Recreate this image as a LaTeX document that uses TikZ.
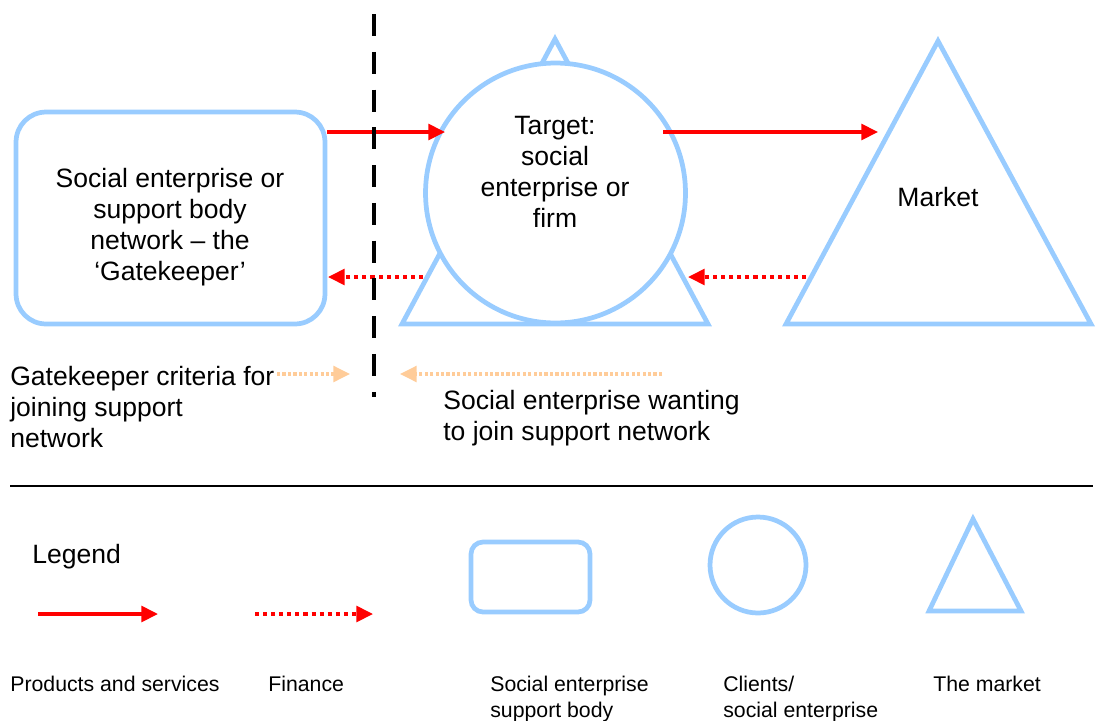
\documentclass[tikz,border=0pt]{standalone}
\usepackage{fontspec}
\setmainfont{Liberation Sans}
\usetikzlibrary{arrows.meta}
\definecolor{shapeblue}{RGB}{153,204,255}
\definecolor{arrowred}{RGB}{255,0,0}
\definecolor{joinpeach}{RGB}{255,204,153}
\tikzset{
	% light blue outlines for the actors
	shape line/.style={draw=shapeblue,line width=2.7pt,line join=miter},
	% flows: products and services solid, finance dotted, joining peach
	goods arrow/.style={draw=arrowred,line width=2pt,-{Triangle[length=9.5pt,width=9pt]}},
	money arrow/.style={goods arrow,dash pattern=on 2.3pt off 2.3pt},
	join arrow/.style={draw=joinpeach,line width=1.8pt,dash pattern=on 1.8pt off 1.3pt,-{Triangle[length=9.5pt,width=9pt]}},
	cut line/.style={draw=black,line width=2.8pt,dash pattern=on 12.5pt off 9pt},
	big text/.style={font=\fontsize{15.1pt}{17.6pt}\selectfont},
	small text/.style={font=\fontsize{12.1pt}{14.8pt}\selectfont}
}
\begin{document}
\begin{tikzpicture}[x=0.02cm,y=-0.02cm]
	\useasboundingbox (0,0) rectangle (1097,720);
	% end points of the connectors
	\coordinate (goods1 start) at (327,132);
	\coordinate (goods1 end) at (445,132);
	\coordinate (goods2 start) at (663,132);
	\coordinate (goods2 end) at (878,132);
	\coordinate (money1 start) at (423,277);
	\coordinate (money1 end) at (328,277);
	\coordinate (money2 start) at (806,277);
	\coordinate (money2 end) at (688,277);
	\coordinate (join1 start) at (277,374);
	\coordinate (join1 end) at (350,374);
	\coordinate (join2 start) at (662,374);
	\coordinate (join2 end) at (400,374);
	\coordinate (cut top) at (374,14);
	\coordinate (cut bottom) at (374,397);
	\coordinate (rule left) at (10,486);
	\coordinate (rule right) at (1093,486);
	
	% gatekeeper network
	\node(gk)[shape line,rounded corners=0.6cm,minimum width=6.18cm,minimum height=4.24cm] at (170.5,218){};
	\node(gk text)[big text,align=center] at (170,227){Social enterprise or\\support body\\network -- the\\‘Gatekeeper’};
	
	% target: triangle behind a white circle
	\draw[shape line] (555,39) -- (402,324) -- (708,324) -- cycle;
	\node(target)[shape line,circle,fill=white,minimum size=5.2cm,inner sep=0] at (555.5,193){};
	\node(target text)[big text,align=center] at (555,172){Target:\\social\\enterprise or\\firm};
	
	% market
	\draw[shape line] (938,41) -- (786,324) -- (1091,324) -- cycle;
	\node(market)[big text] at (938,197){Market};
	
	% flows
	\draw[goods arrow] (goods1 start) -- (goods1 end);
	\draw[goods arrow] (goods2 start) -- (goods2 end);
	\draw[money arrow] (money1 start) -- (money1 end);
	\draw[money arrow] (money2 start) -- (money2 end);
	\draw[cut line] (cut top) -- (cut bottom);
	\draw[join arrow] (join1 start) -- (join1 end);
	\draw[join arrow] (join2 start) -- (join2 end);
	
	\node(criteria)[big text,align=left,anchor=north west,inner sep=0] at (10,366){Gatekeeper criteria for\\joining support\\network};
	\node(wanting)[big text,align=left,anchor=north west,inner sep=0] at (443,390){Social enterprise wanting\\to join support network};
	
	% legend
	\draw[line width=1.1pt] (rule left) -- (rule right);
	\node(legend)[big text,anchor=north west,inner sep=0] at (32,544){Legend};
	\coordinate (leg goods start) at (38,614);
	\coordinate (leg goods end) at (158,614);
	\coordinate (leg money start) at (255,614);
	\coordinate (leg money end) at (373,614);
	\draw[goods arrow] (leg goods start) -- (leg goods end);
	\draw[money arrow] (leg money start) -- (leg money end);
	\node(leg box)[shape line,rounded corners=0.24cm,minimum width=2.38cm,minimum height=1.40cm] at (530.5,577){};
	\node(leg circle)[shape line,circle,minimum size=1.92cm,inner sep=0] at (758,565){};
	\draw[shape line] (973,519) -- (929,611) -- (1021,611) -- cycle;
	
	\node(leg goods)[small text,anchor=north west,inner sep=0] at (10,676){Products and services};
	\node(leg money)[small text,anchor=north west,inner sep=0] at (268,676){Finance};
	\node(leg support)[small text,align=left,anchor=north west,inner sep=0] at (490,676){Social enterprise\\support body};
	\node(leg clients)[small text,align=left,anchor=north west,inner sep=0] at (723,676){Clients/\\social enterprise};
	\node(leg market)[small text,anchor=north west,inner sep=0] at (933,676){The market};
\end{tikzpicture}
\end{document}
